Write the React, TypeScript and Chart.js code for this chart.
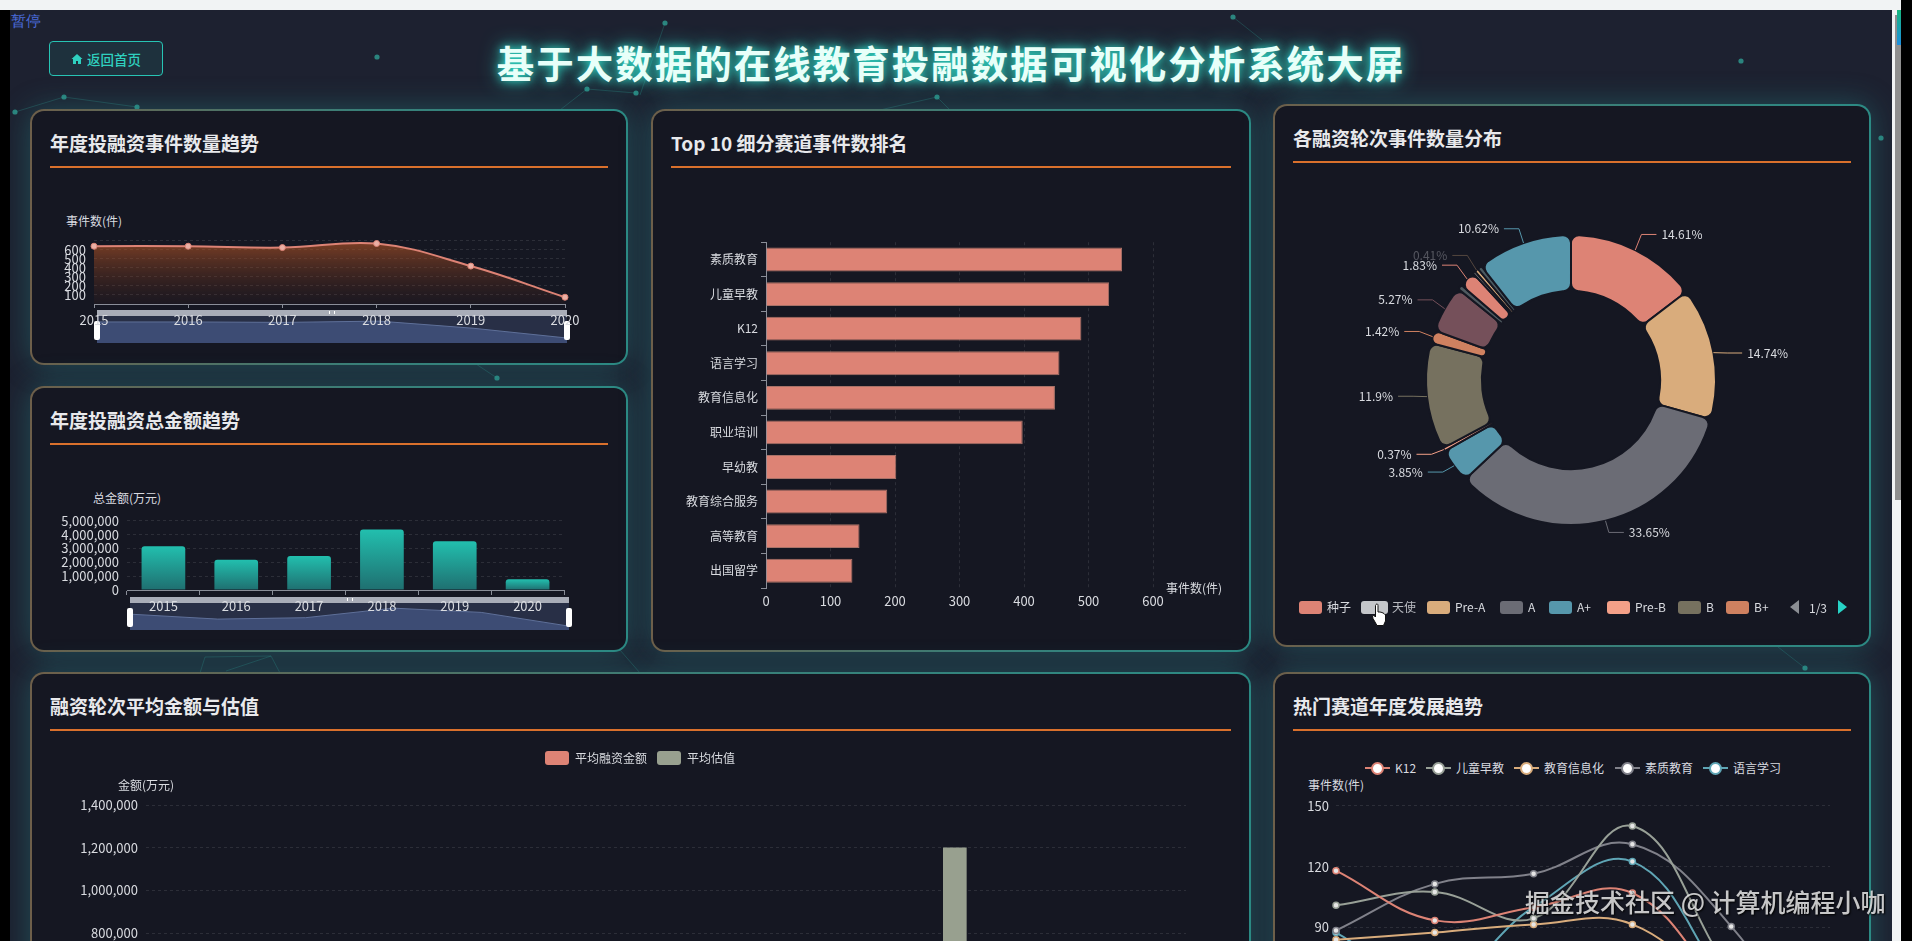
import React, { useEffect, useRef } from "react";
import { Chart, registerables } from "chart.js";

Chart.register(...registerables);

const FONT = '"Noto Sans CJK SC", "Noto Sans", sans-serif';
Chart.defaults.font.family = FONT;
Chart.defaults.animation = false as any;

// ---- data ----
const years = ["2015", "2016", "2017", "2018", "2019", "2020"];
const eventCounts = [640, 640, 625, 670, 420, 75];
const totalAmounts = [3170000, 2180000, 2460000, 4370000, 3520000, 770000];

const trackNames = ["素质教育", "儿童早教", "K12", "语言学习", "教育信息化", "职业培训", "早幼教", "教育综合服务", "高等教育", "出国留学"];
const trackCounts = [552, 532, 489, 455, 448, 398, 202, 188, 145, 134];

const roundNames = ["种子", "Pre-A", "A", "A+", "Pre-B", "B", "B+", "C", "C+", "D", "D+", "E", "F", "战略"];
const roundShares = [14.61, 14.74, 33.65, 3.85, 0.37, 11.9, 1.42, 5.27, 0.55, 1.83, 0.3, 0.41, 0.48, 10.62];
const roundColors = ["#dd8375", "#d9ac7c", "#6b6c75", "#5697ac", "#f4a088", "#76715f", "#cf8160", "#75505a", "#4f5a60", "#dd8375", "#8a8a8a", "#d9ac7c", "#4b5a60", "#5697ac"];
const unlabelledRounds = ["C+", "D+", "F"];
const dimmedRounds = ["E"];
const roundLabelNudge: Record<string, number> = { "种子": -3, "Pre-A": 3, A: -2, "A+": -2, "Pre-B": -2, B: -2, "B+": -1, C: -2, D: -4, E: -4, "战略": -1 };

const legendRounds = ["种子", "天使", "Pre-A", "A", "A+", "Pre-B", "B", "B+"];
const legendColors = ["#dd8375", "#c4c6ca", "#d9ac7c", "#6b6c75", "#5697ac", "#f4a088", "#76715f", "#cf8160"];
const legendSwatchX = [1299, 1361, 1427, 1500, 1549, 1607, 1678, 1726];

// Only the one bar above 800,000 is inside the picture; the others lie below its bottom edge.
const avgRoundNames = ["种子", "天使", "Pre-A", "A", "A+", "Pre-B", "B", "B+", "C", "C+", "D", "D+", "E", "F", "战略"];
const avgAmount: (number | null)[] = avgRoundNames.map(() => null);
const avgValuation: (number | null)[] = [null, null, null, null, null, null, null, null, null, null, null, 1200000, null, null, null];

const hotNames = ["K12", "儿童早教", "教育信息化", "素质教育", "语言学习"];
const hotColors = ["#dd8375", "#98a097", "#d9ac7c", "#80818a", "#5fa5b5"];
const hotK12 = [118, 93.5, 100, 107, 55, 12];
const hotChild = [101, 107.5, 94.5, 140, 68, 15];
const hotInfo = [84, 87.5, 91.5, 91.5, 52, 10];
const hotQuality = [88.5, 111.5, 116.5, 131, 90.5, 18];
const hotLanguage = [87.5, 62, 100, 122.5, 60, 11];
const hotLegendX = [1365, 1426, 1514, 1615, 1703];

const dots = [[377, 57], [64, 97], [15, 112], [137, 107], [587, 89], [636, 93], [665, 23], [937, 97], [1233, 17], [1741, 61], [497, 378], [1805, 668], [1881, 138]];
const links = [[64, 97, 15, 112], [64, 97, 137, 107], [587, 89, 636, 93], [587, 89, 560, 110], [665, 23, 640, 95], [937, 97, 880, 110], [937, 97, 950, 110], [1233, 17, 1262, 40], [1778, 647, 1805, 668], [205, 657, 271, 656], [205, 657, 200, 673], [271, 656, 226, 671], [271, 656, 280, 673], [470, 360, 497, 378], [620, 650, 640, 673]];

// ---- shared styles ----
const TEXT = "#d9dbe0";
const GRID = "rgba(255,255,255,0.10)";
const AXIS = "#8a8e98";
const CARD = "#151722";

const fixedW = (w: number) => (s: any) => { s.width = w; };
const fixedH = (h: number) => (s: any) => { s.height = h; };
const quiet = { legend: { display: false }, tooltip: { enabled: false } };

function ChartCanvas({ left, top, width, height, make }: any) {
  const ref = useRef<HTMLCanvasElement>(null);
  useEffect(() => {
    const chart = new Chart(ref.current as HTMLCanvasElement, make());
    return () => chart.destroy();
  }, []);
  return <canvas ref={ref} width={width} height={height} style={{ position: "absolute", left, top, width, height, display: "block" }} />;
}

function Card({ x, y, w, h, title }: any) {
  return (
    <div style={{ position: "absolute", left: x, top: y, width: w, height: h, boxSizing: "border-box", borderRadius: 14, border: "2px solid transparent", background: `linear-gradient(${CARD},${CARD}) padding-box, linear-gradient(90deg,#6d5f4a,#3a7f78 55%,#2c8a84) border-box`, boxShadow: "0 0 30px rgba(38,140,140,0.42)" }}>
      <div style={{ position: "absolute", left: 18, top: 18, fontSize: 19, lineHeight: "28px", fontWeight: 700, color: "#e8e9ec", whiteSpace: "nowrap" }}>{title}</div>
      <div style={{ position: "absolute", left: 18, right: 18, top: 55, height: 2, background: "#d9702c" }} />
    </div>
  );
}

function Tag({ cx, cy, size = 12, color = TEXT, children }: any) {
  return <div style={{ position: "absolute", left: cx, top: cy, transform: "translate(-50%,-50%)", fontSize: size, color, whiteSpace: "nowrap" }}>{children}</div>;
}

function Slider({ x, y, w, handleTop, handleH, make }: any) {
  return (
    <>
      <div style={{ position: "absolute", left: x, top: y, width: w, height: 6, background: "#a9adb8" }} />
      <div style={{ position: "absolute", left: x, top: y + 6, width: w, height: 27, background: "rgba(66,82,122,0.42)" }} />
      <ChartCanvas left={x} top={y + 6} width={w} height={27} make={make} />
      <div style={{ position: "absolute", left: x + w / 2 - 3, top: y + 1, width: 6, height: 3, fontSize: 0, borderLeft: "1px solid #fff", borderRight: "1px solid #fff", boxSizing: "border-box" }} />
      <div style={{ position: "absolute", left: x - 3, top: handleTop, width: 6, height: handleH, background: "#fff", borderRadius: 2 }} />
      <div style={{ position: "absolute", left: x + w - 3, top: handleTop, width: 6, height: handleH, background: "#fff", borderRadius: 2 }} />
    </>
  );
}

const preview = (values: number[], min: number, max: number) => () => ({
  type: "line",
  data: { labels: years, datasets: [{ data: values, borderColor: "#5f7099", borderWidth: 1, pointRadius: 0, tension: 0, fill: "start", backgroundColor: "#3d4c74" }] },
  options: {
    responsive: false, animation: false, plugins: quiet,
    layout: { padding: 0 },
    scales: { x: { display: false, offset: false }, y: { display: false, min, max } },
  },
});

const eventChart = () => ({
  type: "line",
  data: {
    labels: years,
    datasets: [{
      data: eventCounts, borderColor: "#dd8375", borderWidth: 2, tension: 0.4, fill: "start",
      pointRadius: 3, pointBackgroundColor: "#eab0a5", pointBorderColor: "#dd8375", pointBorderWidth: 1, clip: false,
      backgroundColor: (c: any) => {
        const a = c.chart.chartArea;
        if (!a) return "transparent";
        const g = c.chart.ctx.createLinearGradient(0, a.top, 0, a.bottom);
        g.addColorStop(0, "rgba(190,90,40,0.62)");
        g.addColorStop(1, "rgba(90,40,25,0.10)");
        return g;
      },
    }],
  },
  options: {
    responsive: false, animation: false, plugins: quiet,
    layout: { padding: { left: 24, top: 15, right: 63, bottom: 0 } },
    scales: {
      x: { afterFit: fixedH(36), border: { color: AXIS }, grid: { drawOnChartArea: false, tickLength: 4, tickColor: AXIS }, ticks: { color: TEXT, padding: 4, maxRotation: 0, font: { size: 13 } } },
      y: {
        afterFit: fixedW(40), min: 0, max: 700, border: { display: false, dash: [3, 3] }, grid: { color: GRID, drawTicks: false },
        ticks: { stepSize: 100, autoSkip: false, color: TEXT, padding: 8, font: { size: 13 }, callback: (v: number) => (v === 0 || v === 700 ? "" : String(v)) },
      },
    },
  },
});

const amountChart = () => ({
  type: "bar",
  data: {
    labels: years,
    datasets: [{
      data: totalAmounts, barPercentage: 0.6, categoryPercentage: 1, borderRadius: { topLeft: 3, topRight: 3 }, borderSkipped: "bottom",
      backgroundColor: (c: any) => {
        const y = c.chart.scales.y;
        const fallback = "#22b8a8";
        if (!y || c.type !== "data") return fallback;
        const y0 = y.getPixelForValue(totalAmounts[c.dataIndex]);
        const y1 = y.getPixelForValue(0);
        if (!Number.isFinite(y0) || !Number.isFinite(y1)) return fallback;
        const g = c.chart.ctx.createLinearGradient(0, y0, 0, y1);
        g.addColorStop(0, "#22bfae");
        g.addColorStop(1, "#1f6f70");
        return g;
      },
    }],
  },
  options: {
    responsive: false, animation: false, plugins: quiet,
    layout: { padding: { left: 17, top: 4, right: 64, bottom: 0 } },
    scales: {
      x: { afterFit: fixedH(30), border: { color: AXIS }, grid: { drawOnChartArea: false, tickLength: 5, tickColor: AXIS }, ticks: { color: TEXT, padding: 3, maxRotation: 0, font: { size: 13 } } },
      y: { afterFit: fixedW(80), min: 0, max: 5000000, border: { display: false, dash: [3, 3] }, grid: { color: GRID, drawTicks: false }, ticks: { stepSize: 1000000, autoSkip: false, color: TEXT, padding: 8, font: { size: 13 }, callback: (v: number) => v.toLocaleString("en-US") } },
    },
  },
});

const trackChart = () => ({
  type: "bar",
  data: { labels: trackNames, datasets: [{ data: trackCounts, backgroundColor: "#dd8375", borderColor: "#a87268", borderWidth: 1, barPercentage: 0.69, categoryPercentage: 1 }] },
  options: {
    responsive: false, animation: false, indexAxis: "y", plugins: quiet,
    layout: { padding: { left: 35, top: 10, right: 98, bottom: 10 } },
    scales: {
      x: { afterFit: fixedH(30), min: 0, max: 600, border: { display: false, dash: [3, 3] }, grid: { color: GRID, drawTicks: false }, ticks: { stepSize: 100, color: TEXT, padding: 5, font: { size: 13 } } },
      y: { afterFit: fixedW(80), border: { color: AXIS }, grid: { drawOnChartArea: false, tickLength: 5, tickColor: AXIS }, ticks: { color: TEXT, padding: 3, font: { size: 12 } } },
    },
  },
});

const sliceCallouts = {
  id: "sliceCallouts",
  afterDatasetsDraw(chart: any) {
    const { ctx } = chart;
    const arcs = chart.getDatasetMeta(0).data;
    arcs.forEach((arc: any, i: number) => {
      const name = roundNames[i];
      if (unlabelledRounds.includes(name)) return;
      const { startAngle, endAngle, outerRadius, x, y } = arc;
      const mid = (startAngle + endAngle) / 2;
      const cos = Math.cos(mid), sin = Math.sin(mid);
      const side = cos >= 0 ? 1 : -1;
      const p0 = [x + cos * outerRadius, y + sin * outerRadius];
      const p1 = [x + cos * (outerRadius + 14), y + sin * (outerRadius + 14) + (roundLabelNudge[name] || 0)];
      const p2 = [p1[0] + side * 15, p1[1]];
      ctx.save();
      ctx.globalAlpha = dimmedRounds.includes(name) ? 0.32 : 1;
      ctx.strokeStyle = roundColors[i];
      ctx.lineWidth = 1;
      ctx.beginPath();
      ctx.moveTo(p0[0], p0[1]);
      ctx.lineTo(p1[0], p1[1]);
      ctx.lineTo(p2[0], p2[1]);
      ctx.stroke();
      ctx.fillStyle = TEXT;
      ctx.font = `12px ${FONT}`;
      ctx.textBaseline = "middle";
      ctx.textAlign = side > 0 ? "left" : "right";
      ctx.fillText(`${roundShares[i]}%`, p2[0] + side * 5, p2[1]);
      ctx.restore();
    });
  },
};

const roundChart = () => ({
  type: "doughnut",
  data: { labels: roundNames, datasets: [{ data: roundShares, backgroundColor: roundColors, borderColor: CARD, borderWidth: 2, borderRadius: 8 }] },
  options: {
    responsive: false, animation: false, plugins: quiet, layout: { padding: 0 },
    radius: 145, cutout: "61.5%",
  },
  plugins: [sliceCallouts],
});

const legendGap = {
  id: "legendGap",
  beforeInit(chart: any) {
    const fit = chart.legend.fit;
    chart.legend.fit = function () {
      fit.call(this);
      this.height += 30;
    };
  },
};

const avgChart = () => ({
  type: "bar",
  data: {
    labels: avgRoundNames,
    datasets: [
      { label: "平均融资金额", data: avgAmount, backgroundColor: "#dd8375", barThickness: 23 },
      { label: "平均估值", data: avgValuation, backgroundColor: "#98a08f", barThickness: 23 },
    ],
  },
  options: {
    responsive: false, animation: false,
    layout: { padding: 0 },
    plugins: {
      tooltip: { enabled: false },
      legend: { position: "top", labels: { boxWidth: 24, boxHeight: 14, padding: 10, color: TEXT, useBorderRadius: true, borderRadius: 3, font: { size: 12 } } },
    },
    scales: {
      x: { afterFit: fixedH(47), border: { color: AXIS }, grid: { drawOnChartArea: false }, ticks: { color: TEXT } },
      y: { afterFit: fixedW(116), min: 0, max: 1400000, border: { display: false, dash: [3, 3] }, grid: { color: GRID, drawTicks: false }, ticks: { stepSize: 200000, color: TEXT, padding: 8, font: { size: 13 }, callback: (v: number) => v.toLocaleString("en-US") } },
      spacer: { position: "right", afterFit: fixedW(64), min: 0, max: 1, border: { display: false }, grid: { drawOnChartArea: false, drawTicks: false }, ticks: { display: false } },
    },
  },
  plugins: [legendGap],
});

const hotSeries = [hotK12, hotChild, hotInfo, hotQuality, hotLanguage];
const hotChart = () => ({
  type: "line",
  data: {
    labels: years,
    datasets: hotSeries.map((values, i) => ({
      label: hotNames[i], data: values, borderColor: hotColors[i], borderWidth: 2, tension: 0.4,
      pointRadius: 3, pointBackgroundColor: "#e6e6e6", pointBorderColor: hotColors[i], pointBorderWidth: 1.5, clip: false,
    })),
  },
  options: {
    responsive: false, animation: false, plugins: quiet,
    layout: { padding: { left: 13, right: 41, top: 10, bottom: 0 } },
    scales: {
      x: { afterFit: fixedH(30), border: { color: AXIS }, grid: { drawOnChartArea: false }, ticks: { color: TEXT } },
      y: { afterFit: fixedW(50), min: 0, max: 150, border: { display: false, dash: [3, 3] }, grid: { color: GRID, drawTicks: false }, ticks: { stepSize: 30, color: TEXT, padding: 7, font: { size: 13 } } },
    },
  },
});

export default function App() {
  return (
    <div style={{ position: "fixed", left: 0, top: 0, width: 1912, height: 941, overflow: "hidden", background: "#1d2130", fontFamily: FONT }}>
      <svg width={1912} height={941} style={{ position: "absolute", left: 0, top: 0 }}>
        {links.map((l, i) => <line key={i} x1={l[0]} y1={l[1]} x2={l[2]} y2={l[3]} stroke="#2f9d92" strokeOpacity={0.28} strokeWidth={1} />)}
        {dots.map((d, i) => <circle key={i} cx={d[0]} cy={d[1]} r={2.6} fill="#2f9d92" fillOpacity={0.8} />)}
      </svg>

      <div style={{ position: "absolute", left: 11, top: 13, fontFamily: "'Liberation Serif', serif", fontSize: 15, lineHeight: "16px", color: "#4a6ad8" }}>暂停</div>

      <div style={{ position: "absolute", left: 49, top: 41, width: 114, height: 35, boxSizing: "border-box", border: "1px solid #27c4b4", borderRadius: 4, background: "rgba(39,196,180,0.10)", color: "#2fd0bf", fontSize: 13.5, display: "flex", alignItems: "center", justifyContent: "center", gap: 4, fontWeight: 500 }}>
        <svg width={12} height={12} viewBox="0 0 12 12"><path d="M6 1 L11.5 6 L10 6 L10 11 L7 11 L7 8 L5 8 L5 11 L2 11 L2 6 L0.5 6 Z" fill="#2fd0bf" /></svg>
        返回首页
      </div>

      <div style={{ position: "absolute", left: 0, width: 1902, top: 36, textAlign: "center", fontSize: 37.5, lineHeight: "52px", fontWeight: 700, letterSpacing: 2, color: "#e8fff9", whiteSpace: "nowrap", textShadow: "0 0 8px #2fd6c3, 0 0 20px rgba(47,214,195,0.8)" }}>
        基于大数据的在线教育投融数据可视化分析系统大屏
      </div>

      <Card x={30} y={109} w={598} h={256} title="年度投融资事件数量趋势" />
      <Card x={30} y={386} w={598} h={266} title="年度投融资总金额趋势" />
      <Card x={651} y={109} w={600} h={543} title="Top 10 细分赛道事件数排名" />
      <Card x={1273} y={104} w={598} h={543} title="各融资轮次事件数量分布" />
      <Card x={30} y={672} w={1221} h={400} title="融资轮次平均金额与估值" />
      <Card x={1273} y={672} w={598} h={400} title="热门赛道年度发展趋势" />

      <Tag cx={94} cy={220}>事件数(件)</Tag>
      <Slider x={97} y={310} w={470} handleTop={321} handleH={19} make={preview(eventCounts, -100, 850)} />
      <ChartCanvas left={30} top={225} width={598} height={115} make={eventChart} />

      <Tag cx={127} cy={497}>总金额(万元)</Tag>
      <Slider x={130} y={597} w={439} handleTop={608} handleH={19} make={preview(totalAmounts, 0, 5400000)} />
      <ChartCanvas left={30} top={505} width={598} height={115} make={amountChart} />

      <ChartCanvas left={651} top={232} width={600} height={396} make={trackChart} />
      <Tag cx={1194} cy={587}>事件数(件)</Tag>

      <ChartCanvas left={1273} top={190} width={596} height={380} make={roundChart} />
      {legendRounds.map((name, i) => (
        <React.Fragment key={name}>
          <div style={{ position: "absolute", left: legendSwatchX[i], top: 601, width: name === "天使" ? 27 : 23, height: 13, borderRadius: 3, background: legendColors[i] }} />
          <div style={{ position: "absolute", left: legendSwatchX[i] + (name === "天使" ? 31 : 28), top: 598, fontSize: 12, lineHeight: "18px", color: name === "天使" ? "#b8bac0" : TEXT, whiteSpace: "nowrap" }}>{name}</div>
        </React.Fragment>
      ))}
      <div style={{ position: "absolute", left: 1790, top: 600, width: 0, height: 0, borderTop: "7px solid transparent", borderBottom: "7px solid transparent", borderRight: "9px solid #8b8e94" }} />
      <Tag cx={1818} cy={607}>1/3</Tag>
      <div style={{ position: "absolute", left: 1838, top: 600, width: 0, height: 0, borderTop: "7px solid transparent", borderBottom: "7px solid transparent", borderLeft: "9px solid #27d3c6" }} />
      <svg width={16} height={24} viewBox="0 0 16 24" style={{ position: "absolute", left: 1371, top: 603 }}>
        <path d="M5 1.5 C6 0.5 7 1 7 2.5 L7 9 L9 9 L11 9.5 L13 10.5 L14.5 12 L14.5 18 L12.5 22.5 L6 22.5 L2 15.5 L1.5 13 C2 12 3.5 12.5 4.5 14 L4.5 2.5 Z" fill="#fff" stroke="#111" strokeWidth={1} />
      </svg>

      <ChartCanvas left={30} top={741} width={1220} height={410} make={avgChart} />
      <Tag cx={146} cy={784}>金额(万元)</Tag>

      {hotNames.map((name, i) => (
        <React.Fragment key={name}>
          <div style={{ position: "absolute", left: hotLegendX[i], top: 767, width: 25, height: 2, background: hotColors[i] }} />
          <div style={{ position: "absolute", left: hotLegendX[i] + 6, top: 762, width: 13, height: 13, boxSizing: "border-box", borderRadius: "50%", background: "#fff", border: `2px solid ${hotColors[i]}` }} />
          <div style={{ position: "absolute", left: hotLegendX[i] + 30, top: 759, fontSize: 12, lineHeight: "18px", color: TEXT, whiteSpace: "nowrap" }}>{name}</div>
        </React.Fragment>
      ))}
      <Tag cx={1336} cy={784}>事件数(件)</Tag>
      <ChartCanvas left={1273} top={791} width={598} height={349} make={hotChart} />

      <div style={{ position: "absolute", left: 1525, top: 884, fontSize: 25, lineHeight: "34px", color: "rgba(240,240,240,0.82)", whiteSpace: "nowrap", textShadow: "1px 1px 2px #000", fontWeight: 500 }}>掘金技术社区 @ 计算机编程小咖</div>

      <div style={{ position: "absolute", left: 0, top: 0, width: 10, height: 941, background: "#000" }} />
      <div style={{ position: "absolute", left: 0, top: 0, width: 1901, height: 10, background: "#f1f3f4" }} />
      <div style={{ position: "absolute", left: 1892, top: 0, width: 9, height: 941, background: "#f1f3f4" }} />
      <div style={{ position: "absolute", left: 1895, top: 15, width: 6, height: 485, background: "#8f8f8f" }} />
      <div style={{ position: "absolute", left: 1897, top: 10, width: 4, height: 35, background: "linear-gradient(#18b77e,#1d8fe0)" }} />
      <div style={{ position: "absolute", left: 1901, top: 0, width: 11, height: 941, background: "#000" }} />
    </div>
  );
}
